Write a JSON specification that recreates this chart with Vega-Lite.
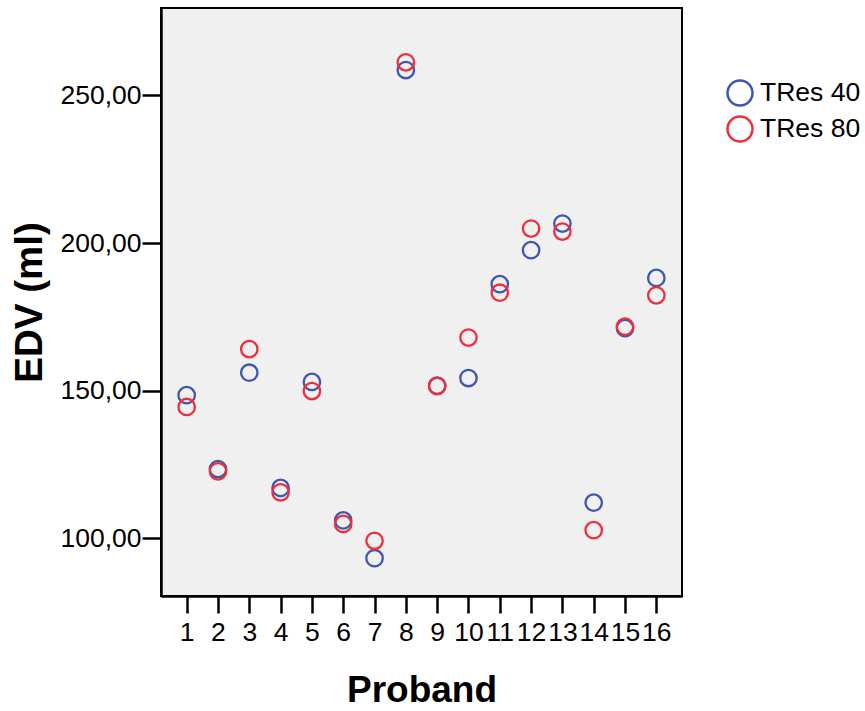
{
  "$schema": "https://vega.github.io/schema/vega-lite/v6.json",
  "autosize": {"type": "none"},
  "padding": {"left": 161, "top": 8, "right": 183, "bottom": 115},
  "width": 521,
  "height": 588,
  "background": "white",
  "config": {
    "font": "Liberation Sans",
    "view": {"fill": "#F0F0F0", "stroke": "#000000", "strokeWidth": 2},
    "axis": {
      "grid": false,
      "domainColor": "#000000",
      "domainWidth": 2.5,
      "tickColor": "#000000",
      "tickWidth": 2.5,
      "labelColor": "#000000",
      "titleColor": "#000000",
      "labelFont": "Liberation Sans",
      "titleFont": "Liberation Sans",
      "labelFontSize": 26.5,
      "titleFontSize": 37,
      "titleFontWeight": "bold"
    }
  },
  "data": {
    "values": [
      {"Proband": 1, "EDV": 148.5, "Serie": "TRes 40"},
      {"Proband": 2, "EDV": 123.5, "Serie": "TRes 40"},
      {"Proband": 3, "EDV": 156.1, "Serie": "TRes 40"},
      {"Proband": 4, "EDV": 117.1, "Serie": "TRes 40"},
      {"Proband": 5, "EDV": 153.0, "Serie": "TRes 40"},
      {"Proband": 6, "EDV": 106.1, "Serie": "TRes 40"},
      {"Proband": 7, "EDV": 93.3, "Serie": "TRes 40"},
      {"Proband": 8, "EDV": 258.6, "Serie": "TRes 40"},
      {"Proband": 9, "EDV": 151.7, "Serie": "TRes 40"},
      {"Proband": 10, "EDV": 154.3, "Serie": "TRes 40"},
      {"Proband": 11, "EDV": 186.1, "Serie": "TRes 40"},
      {"Proband": 12, "EDV": 197.6, "Serie": "TRes 40"},
      {"Proband": 13, "EDV": 206.6, "Serie": "TRes 40"},
      {"Proband": 14, "EDV": 112.1, "Serie": "TRes 40"},
      {"Proband": 15, "EDV": 171.2, "Serie": "TRes 40"},
      {"Proband": 16, "EDV": 188.2, "Serie": "TRes 40"},
      {"Proband": 1, "EDV": 144.5, "Serie": "TRes 80"},
      {"Proband": 2, "EDV": 122.7, "Serie": "TRes 80"},
      {"Proband": 3, "EDV": 164.1, "Serie": "TRes 80"},
      {"Proband": 4, "EDV": 115.6, "Serie": "TRes 80"},
      {"Proband": 5, "EDV": 149.9, "Serie": "TRes 80"},
      {"Proband": 6, "EDV": 104.9, "Serie": "TRes 80"},
      {"Proband": 7, "EDV": 99.2, "Serie": "TRes 80"},
      {"Proband": 8, "EDV": 261.2, "Serie": "TRes 80"},
      {"Proband": 9, "EDV": 151.6, "Serie": "TRes 80"},
      {"Proband": 10, "EDV": 168.0, "Serie": "TRes 80"},
      {"Proband": 11, "EDV": 183.2, "Serie": "TRes 80"},
      {"Proband": 12, "EDV": 204.9, "Serie": "TRes 80"},
      {"Proband": 13, "EDV": 203.9, "Serie": "TRes 80"},
      {"Proband": 14, "EDV": 102.8, "Serie": "TRes 80"},
      {"Proband": 15, "EDV": 171.7, "Serie": "TRes 80"},
      {"Proband": 16, "EDV": 182.3, "Serie": "TRes 80"}
    ]
  },
  "mark": {"type": "point", "shape": "circle", "filled": false, "size": 270, "strokeWidth": 2.3, "opacity": 1},
  "encoding": {
    "x": {
      "field": "Proband",
      "type": "quantitative",
      "scale": {"domain": [0.18, 16.82], "nice": false, "zero": false},
      "axis": {
        "title": "Proband",
        "values": [1, 2, 3, 4, 5, 6, 7, 8, 9, 10, 11, 12, 13, 14, 15, 16],
        "format": "d",
        "tickSize": 17,
        "labelPadding": 6,
        "labelOverlap": false,
        "labelFlush": false,
        "titlePadding": 27
      }
    },
    "y": {
      "field": "EDV",
      "type": "quantitative",
      "scale": {"domain": [80.5, 279.6], "nice": false, "zero": false},
      "axis": {
        "title": "EDV (ml)",
        "titleFontSize": 38.5,
        "values": [100, 150, 200, 250],
        "labelExpr": "replace(format(datum.value, '.2f'), '.', ',')",
        "tickSize": 19,
        "labelPadding": 1,
        "titlePadding": 10
      }
    },
    "color": {
      "field": "Serie",
      "type": "nominal",
      "scale": {"domain": ["TRes 40", "TRes 80"], "range": ["#3E56B0", "#EE2E3A"]},
      "legend": {
        "title": null,
        "orient": "none",
        "legendX": 565,
        "legendY": 71,
        "padding": 0,
        "symbolType": "circle",
        "symbolSize": 625,
        "symbolStrokeWidth": 2.5,
        "symbolFillColor": "transparent",
        "labelFontSize": 26.5,
        "labelFont": "Liberation Sans",
        "labelColor": "#000000",
        "labelOffset": 6,
        "rowPadding": 0
      }
    }
  }
}
